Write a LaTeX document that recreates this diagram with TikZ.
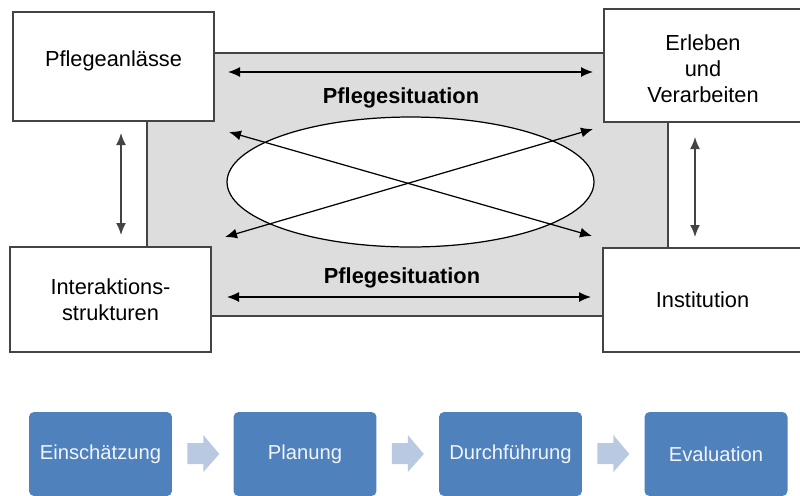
\documentclass[tikz,border=0pt]{standalone}
\usepackage{fontspec}
\setmainfont{Liberation Sans}
\usepackage{xcolor}
\usepackage{tikz}
\usetikzlibrary{shapes.geometric,arrows.meta}
\definecolor{blauSchritt}{HTML}{4F81BD}
\definecolor{blauPfeil}{HTML}{B9C9E2}
\definecolor{grauFlaeche}{HTML}{DDDDDD}
\definecolor{grauRand}{HTML}{444444}
\begin{document}
\begin{tikzpicture}[x=0.02cm,y=-0.02cm]
% Styles
\tikzstyle{pfeil}=[<->,>={Latex[length=2.4mm,width=2mm]},line width=0.7pt]
\tikzstyle{kasten}=[draw=grauRand,fill=white,line width=0.8pt,inner sep=0pt,font=\fontsize{12.4}{14.6}\selectfont,align=center]
\tikzstyle{beschriftung}=[font=\fontsize{12.4}{14.8}\selectfont,inner sep=0pt,align=center]
\tikzstyle{titel}=[font=\fontsize{12.4}{14.6}\selectfont\bfseries,inner sep=0pt]
\tikzstyle{schritt}=[fill=blauSchritt,rounded corners=0.1cm,minimum width=2.86cm,minimum height=1.68cm,inner sep=0pt,text=white!92!blauSchritt,font=\fontsize{11.5}{13}\selectfont]
\tikzstyle{chevron}=[fill=blauPfeil]
% Rahmen
\useasboundingbox (0,0) rectangle (800,495);
% Flaeche
\node[draw=grauRand,fill=grauFlaeche,line width=0.8pt,minimum width=10.42cm,minimum height=5.26cm] (Flaeche) at (407.5,184.5) {};
% Kaesten
\node[kasten,minimum width=4.02cm,minimum height=2.18cm] (PA) at (113.5,66.5) {};
\node[beschriftung] (PAt) at (113.5,61) {Pflegeanlässe};
\node[kasten,minimum width=4.02cm,minimum height=2.10cm] (IS) at (110.5,299.5) {Interaktions-\\strukturen};
\node[kasten,minimum width=3.96cm,minimum height=2.26cm] (EV) at (703,65.5) {};
\node[beschriftung] (EVt) at (703,69) {Erleben\\und\\Verarbeiten};
\node[kasten,minimum width=3.98cm,minimum height=2.08cm] (IN) at (702.5,300) {Institution};
\node[draw=black,fill=white,line width=0.7pt,ellipse,inner sep=0pt,minimum width=7.34cm,minimum height=2.6cm] (Ell) at (410.5,182) {};
\node[titel] (PS1) at (401,98) {Pflegesituation};
\node[titel] (PS2) at (402,278) {Pflegesituation};
% Pfeilenden
\coordinate (h1a) at (228,72);
\coordinate (h1b) at (593,72);
\coordinate (h2a) at (227,297);
\coordinate (h2b) at (591,297);
\coordinate (d1a) at (229,132);
\coordinate (d1b) at (592,236);
\coordinate (d2a) at (225,237);
\coordinate (d2b) at (593,129);
\coordinate (v1a) at (121,133);
\coordinate (v1b) at (121,235);
\coordinate (v2a) at (695,137);
\coordinate (v2b) at (695,237);
% Pfeile
\draw[pfeil] (h1a)--(h1b);
\draw[pfeil] (h2a)--(h2b);
\draw[pfeil] (d1a)--(d1b);
\draw[pfeil] (d2a)--(d2b);
\draw[pfeil,draw=grauRand,line width=0.9pt] (v1a)--(v1b);
\draw[pfeil,draw=grauRand,line width=0.9pt] (v2a)--(v2b);
% Prozessschritte
\node[schritt] (E) at (100.5,454) {Einschätzung};
\node[schritt] (P) at (305,454) {Planung};
\node[schritt] (D) at (510.5,454) {Durchführung};
\node[schritt] (Ev) at (716,454) {Evaluation};
\foreach \von in {E,P,D}
  \fill[chevron] ([shift={(15,-11)}]\von.east) -- ([shift={(31,-11)}]\von.east)
    -- ([shift={(31,-19)}]\von.east) -- ([shift={(47,0)}]\von.east)
    -- ([shift={(31,18)}]\von.east) -- ([shift={(31,10)}]\von.east)
    -- ([shift={(15,10)}]\von.east) -- cycle;
\end{tikzpicture}
\end{document}
